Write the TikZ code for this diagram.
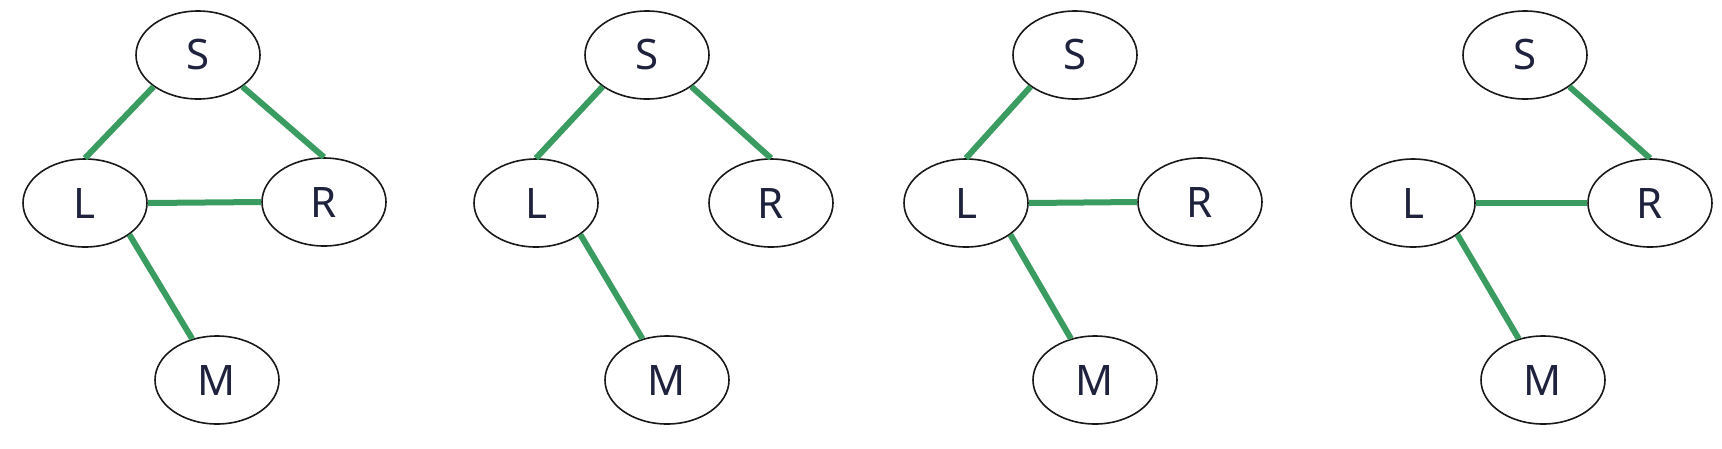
\documentclass[tikz,border=0pt]{standalone}
\usepackage{fontspec}
\setmainfont{Noto Sans}
\usepackage{tikz}
\usetikzlibrary{shapes.geometric,positioning,calc}
\definecolor{edgegreen}{RGB}{58,156,96}
\definecolor{letterblue}{RGB}{30,34,60}

\begin{document}
\begin{tikzpicture}[x=1pt, y=1pt]
	\tikzstyle{vertex} = [ellipse, minimum width=124pt, minimum height=88pt, inner sep=0pt,
	draw=black!90, line width=1.6pt, text=letterblue, font=\fontsize{42}{42}\selectfont]
	\tikzstyle{link} = [draw=edgegreen, line width=6pt]
	\useasboundingbox (0,0) rectangle (1722,-448);
	% first graph
	\node (L1) at (85,-203) [vertex] {L};
	\node (S1) at ($(L1)+(113pt,148pt)$) [vertex] {S};
	\node (R1) at ($(L1)+(239pt,1pt)$) [vertex] {R};
	\node (M1) at ($(L1)+(132pt,-177pt)$) [vertex] {M};
	\draw[link] (S1.south west) -- (L1.north);
	\draw[link] (S1.south east) -- (R1.north);
	\draw[link] (L1.east) -- (R1.west);
	\draw[link] (L1.south east) -- (M1);
	% second graph
	\node (L2) at ($(L1)+(451pt,0pt)$) [vertex] {L};
	\node (S2) at ($(L2)+(111pt,148pt)$) [vertex] {S};
	\node (R2) at ($(L2)+(235pt,0pt)$) [vertex] {R};
	\node (M2) at ($(L2)+(131pt,-177pt)$) [vertex] {M};
	\draw[link] (S2.south west) -- (L2.north);
	\draw[link] (S2.south east) -- (R2.north);
	\draw[link] (L2.south east) -- (M2);
	% third graph
	\node (L3) at ($(L1)+(881pt,0pt)$) [vertex] {L};
	\node (S3) at ($(L3)+(109pt,148pt)$) [vertex] {S};
	\node (R3) at ($(L3)+(234pt,1pt)$) [vertex] {R};
	\node (M3) at ($(L3)+(129pt,-177pt)$) [vertex] {M};
	\draw[link] (S3.south west) -- (L3.north);
	\draw[link] (L3.east) -- (R3.west);
	\draw[link] (L3.south east) -- (M3);
	% fourth graph
	\node (L4) at ($(L1)+(1328pt,0pt)$) [vertex] {L};
	\node (S4) at ($(L4)+(112pt,148pt)$) [vertex] {S};
	\node (R4) at ($(L4)+(237pt,0pt)$) [vertex] {R};
	\node (M4) at ($(L4)+(130pt,-177pt)$) [vertex] {M};
	\draw[link] (S4.south east) -- (R4.north);
	\draw[link] (L4.east) -- (R4.west);
	\draw[link] (L4.south east) -- (M4);
\end{tikzpicture}
\end{document}
